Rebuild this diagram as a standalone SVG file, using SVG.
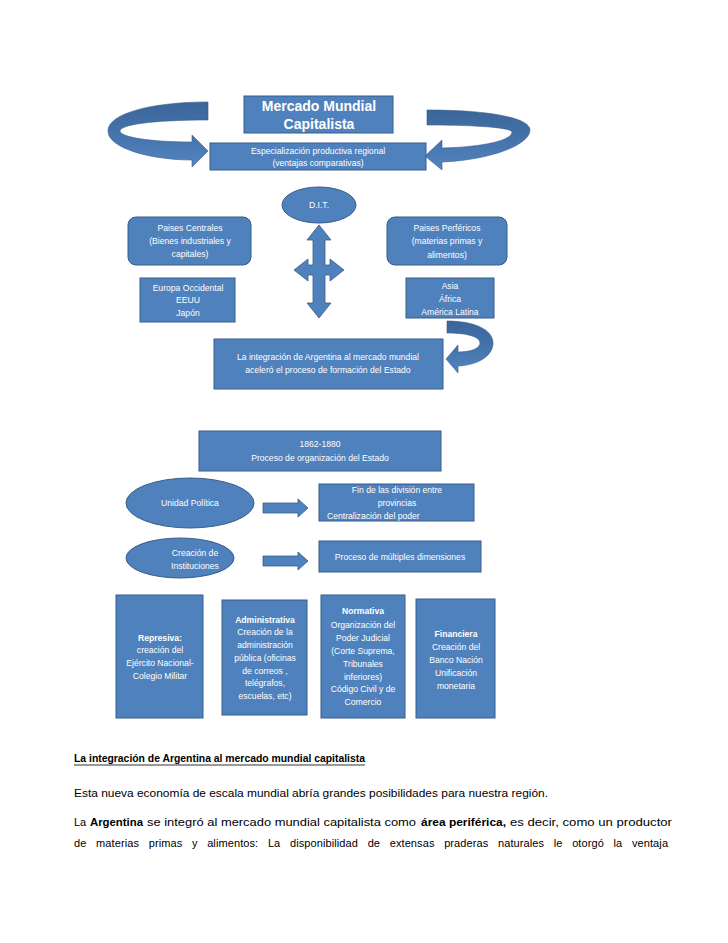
<svg xmlns="http://www.w3.org/2000/svg" width="728" height="943" viewBox="0 0 728 943">
<defs>
<style>
.b{fill:#4F81BD;stroke:#385D8A;stroke-width:1}
.a{fill:#4F81BD;stroke:#385D8A;stroke-width:0.8}
.c{fill:url(#g);stroke:#385D8A;stroke-width:0.6}
.t{font-family:"Liberation Sans",Arial,sans-serif;font-size:8.6px;fill:#fff;text-anchor:middle}
.tb{font-weight:bold}
.h{font-family:"Liberation Sans",Arial,sans-serif;font-size:14px;font-weight:bold;fill:#fff;text-anchor:middle}
.p{font-family:"Liberation Sans",Arial,sans-serif;font-size:11px;fill:#000}
</style>
<linearGradient id="g" x1="0" y1="0" x2="0" y2="1">
<stop offset="0" stop-color="#3A6699"/>
<stop offset="0.5" stop-color="#4573AB"/>
<stop offset="1" stop-color="#5385C2"/>
</linearGradient>
</defs>
<rect width="728" height="943" fill="#fff"/>

<g id="connectors">
<path class="c" d="M208,102 C150,102 108,114 108,131 C108,148 150,160 192,160 L192,167 L208,151 L192,135 L192,142 C150,142 120,137 120,131 C120,125 150,120 208,120 Z"/>
<path class="c" d="M427,110 C490,110 530,118 530,130 C530,145 490,160 442,162 L442,170 L425,156 L442,140 L442,148 C485,147 512,140 512,132 C512,128 480,125 427,125 Z"/>
<path class="c" d="M447,321 C475,321 493,330 493,343 C493,356 478,365 458,366 L458,373 L446,359 L458,345 L458,352 C472,352 480,348 480,343 C480,337 468,333 447,333 Z"/>
<polygon class="a" points="319,225 331,240 325,240 325,265 330,265 330,259 344,270 330,281 330,275 325,275 325,303 331,303 319,318 307,303 313,303 313,275 308,275 308,281 294,270 308,259 308,265 313,265 313,240 307,240"/>
<polygon class="a" points="263,503 298,503 298,499 308,508 298,517 298,513 263,513"/>
<polygon class="a" points="263,556 298,556 298,552 308,561 298,570 298,566 263,566"/>
</g>

<g id="mercado">
<rect class="b" x="244" y="96" width="149" height="37"/>
<text class="h" x="319" y="111">Mercado Mundial</text>
<text class="h" x="319" y="129">Capitalista</text>
</g>

<g id="especializacion">
<rect class="b" x="210" y="143" width="216" height="27"/>
<text class="t" x="318" y="154">Especialización  productiva regional</text>
<text class="t" x="318" y="166">(ventajas comparativas)</text>
</g>

<g id="dit">
<ellipse class="b" cx="319" cy="205" rx="37" ry="18"/>
<text class="t" x="319" y="208">D.I.T.</text>
</g>

<g id="centrales">
<rect class="b" x="128" y="217" width="123" height="48" rx="8"/>
<text class="t" x="190" y="231">Paises Centrales</text>
<text class="t" x="190" y="244">(Bienes industriales y</text>
<text class="t" x="190" y="257">capitales)</text>
</g>

<g id="europa">
<rect class="b" x="140" y="278" width="95" height="44"/>
<text class="t" x="188" y="291">Europa Occidental</text>
<text class="t" x="188" y="303">EEUU</text>
<text class="t" x="188" y="316">Japón</text>
</g>

<g id="perifericos">
<rect class="b" x="387" y="217" width="120" height="48" rx="8"/>
<text class="t" x="447" y="231">Paises Perféricos</text>
<text class="t" x="447" y="244">(materias primas y</text>
<text class="t" x="447" y="258">alimentos)</text>
</g>

<g id="asia">
<rect class="b" x="406" y="278" width="88" height="40"/>
<text class="t" x="450" y="289">Asia</text>
<text class="t" x="450" y="302">África</text>
<text class="t" x="450" y="315">América Latina</text>
</g>

<g id="integracion">
<rect class="b" x="214" y="339" width="229" height="50"/>
<text class="t" x="328" y="360">La integración de Argentina al mercado mundial</text>
<text class="t" x="328" y="373">aceleró el proceso de formación del Estado</text>
</g>

<g id="proceso">
<rect class="b" x="199" y="431" width="242" height="40"/>
<text class="t" x="320" y="447">1862-1880</text>
<text class="t" x="320" y="461">Proceso de organización del Estado</text>
</g>

<g id="unidad">
<ellipse class="b" cx="190" cy="503" rx="64" ry="25"/>
<text class="t" x="190" y="506">Unidad Política</text>
</g>

<g id="fin">
<rect class="b" x="319" y="484" width="155" height="37"/>
<text class="t" x="397" y="493">Fin de las división entre</text>
<text class="t" x="397" y="506">provincias</text>
<text class="t" x="327" y="519" style="text-anchor:start">Centralización del poder</text>
</g>

<g id="creacion">
<ellipse class="b" cx="180" cy="558" rx="54" ry="20"/>
<text class="t" x="195" y="556">Creación de</text>
<text class="t" x="195" y="569">Instituciones</text>
</g>

<g id="multiples">
<rect class="b" x="319" y="541" width="162" height="31"/>
<text class="t" x="400" y="560">Proceso de múltiples dimensiones</text>
</g>

<g id="represiva">
<rect class="b" x="116" y="595" width="87" height="123"/>
<text class="t tb" x="160" y="641">Represiva:</text>
<text class="t" x="160" y="653">creación del</text>
<text class="t" x="160" y="666">Ejército Nacional-</text>
<text class="t" x="160" y="679">Colegio Militar</text>
</g>

<g id="administrativa">
<rect class="b" x="222" y="600" width="85" height="115"/>
<text class="t tb" x="265" y="623">Administrativa</text>
<text class="t" x="265" y="635">Creación de la</text>
<text class="t" x="265" y="648">administración</text>
<text class="t" x="265" y="661">pública (oficinas</text>
<text class="t" x="265" y="674">de correos ,</text>
<text class="t" x="265" y="686">telégrafos,</text>
<text class="t" x="265" y="699">escuelas, etc)</text>
</g>

<g id="normativa">
<rect class="b" x="321" y="595" width="84" height="123"/>
<text class="t tb" x="363" y="614">Normativa</text>
<text class="t" x="363" y="628">Organización del</text>
<text class="t" x="363" y="641">Poder Judicial</text>
<text class="t" x="363" y="654">(Corte Suprema,</text>
<text class="t" x="363" y="667">Tribunales</text>
<text class="t" x="363" y="680">inferiores)</text>
<text class="t" x="363" y="692">Código Civil y de</text>
<text class="t" x="363" y="705">Comercio</text>
</g>

<g id="financiera">
<rect class="b" x="416" y="599" width="79" height="119"/>
<text class="t tb" x="456" y="637">Financiera</text>
<text class="t" x="456" y="650">Creación del</text>
<text class="t" x="456" y="663">Banco Nación</text>
<text class="t" x="456" y="676">Unificación</text>
<text class="t" x="456" y="689">monetaria</text>
</g>

<g id="texto">
<text class="p" x="74" y="762" font-weight="bold" textLength="291" lengthAdjust="spacingAndGlyphs">La integración de Argentina al mercado mundial capitalista</text>
<line x1="74" y1="765" x2="365" y2="765" stroke="#000" stroke-width="0.8"/>
<text class="p" x="74" y="797" textLength="474" lengthAdjust="spacingAndGlyphs">Esta nueva economía de  escala mundial abría grandes posibilidades para nuestra región.</text>
<text class="p" x="74" y="826">La</text>
<text class="p" x="90" y="826" font-weight="bold" textLength="53" lengthAdjust="spacingAndGlyphs">Argentina</text>
<text class="p" x="147" y="826" textLength="269" lengthAdjust="spacingAndGlyphs">se integró al mercado mundial capitalista como</text>
<text class="p" x="421" y="826" font-weight="bold" textLength="85" lengthAdjust="spacingAndGlyphs">área periférica,</text>
<text class="p" x="510" y="826" textLength="162" lengthAdjust="spacingAndGlyphs">es decir, como un productor</text>
<text class="p" x="74" y="847" word-spacing="6.5" textLength="594" lengthAdjust="spacing">de materias primas y alimentos: La disponibilidad de extensas praderas naturales le otorgó la ventaja</text>
</g>
</svg>
